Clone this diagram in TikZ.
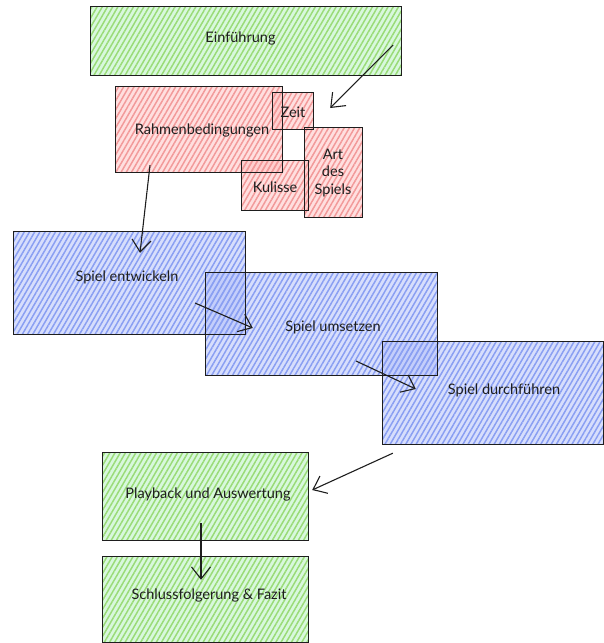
\documentclass[tikz,border=0pt]{standalone}
\usepackage{fontspec}
\setmainfont{Lato}
\usetikzlibrary{arrows.meta,patterns.meta}
\definecolor{ink}{HTML}{1E1E1E}
\definecolor{gfill}{HTML}{B2F2BB}
\definecolor{gline}{HTML}{9ADB78}
\definecolor{rfill}{HTML}{FFC0C0}
\definecolor{rline}{HTML}{F29A9A}
\definecolor{bfill}{HTML}{B0BEFA}
\definecolor{bline}{HTML}{8A9FF2}
\tikzset{
  box/.style={rectangle, inner sep=0pt},
  hatch/.style 2 args={box,
    preaction={fill=#1, fill opacity=0.5},
    preaction={pattern={Lines[angle=60,distance=4.5pt,line width=1.5pt]}, pattern color=#2, fill opacity=0.7}},
  gbox/.style={hatch={gfill}{gline}},
  rbox/.style={hatch={rfill}{rline}},
  bbox/.style={hatch={bfill}{bline}},
  border/.style={draw=ink, line width=1.1pt},
  lbl/.style={font=\fontsize{14.5}{17.5}\selectfont, text=ink, inner sep=0pt, align=center},
  conn/.style={draw=ink, line width=1.1pt, -{Straight Barb[length=12pt,width=19pt,line width=1.1pt]}},
}
\begin{document}
\begin{tikzpicture}[x=1pt,y=-1pt]
\useasboundingbox (0,0) rectangle (604,643);
\clip (0,0) rectangle (604,643);
% boxes (fills)
\node[gbox, minimum width=310pt, minimum height=68pt] (ein) at (246,41) {};
\node[rbox, minimum width=166pt, minimum height=85pt] (rah) at (199,129.5) {};
\node[rbox, minimum width=40pt, minimum height=36pt] (zeit) at (293,111) {};
\node[rbox, minimum width=66pt, minimum height=49pt] (kul) at (275,185.5) {};
\node[rbox, minimum width=57pt, minimum height=89pt] (art) at (333.5,172.5) {};
\node[bbox, minimum width=231pt, minimum height=102pt] (ent) at (129.5,283) {};
\node[bbox, minimum width=231pt, minimum height=102pt] (ums) at (321.5,324) {};
\node[bbox, minimum width=220pt, minimum height=102pt] (dur) at (493,393) {};
\node[gbox, minimum width=205pt, minimum height=87pt] (play) at (205.5,496.5) {};
\node[gbox, minimum width=205pt, minimum height=85pt] (sch) at (205.5,599.5) {};
% borders
\foreach \n in {ein,rah,zeit,kul,art,ent,ums,dur,play,sch}
  \draw[border] (\n.north west) rectangle (\n.south east);
% texts
\node[lbl] (einT) at (240.5,38) {Einführung};
\node[lbl] (rahT) at (202,130) {Rahmenbedingungen};
\node[lbl] (zeitT) at (293,112) {Zeit};
\node[lbl] (artT) at (333,173) {Art\\[0pt] des\\[0pt] Spiels};
\node[lbl] (kulT) at (275,187) {Kulisse};
\node[lbl] (entT) at (127,277) {Spiel entwickeln};
\node[lbl] (umsT) at (333,327) {Spiel umsetzen};
\node[lbl] (durT) at (504,390) {Spiel durchführen};
\node[lbl] (playT) at (208,494) {Playback und Auswertung};
\node[lbl] (schT) at (209,595) {Schlussfolgerung \& Fazit};
% connectors
\draw[conn] ([shift={(-8,4)}]ein.east) -- ([shift={(17,-3)}]zeit.east);
\draw[conn] ([shift={(-49,-7)}]rah.south) -- ([shift={(10.5,21)}]ent.north);
\draw[conn] ([shift={(65.5,20)}]ent.center) -- ([shift={(47,4)}]ums.west);
\draw[conn] ([shift={(34.5,37)}]ums.center) -- ([shift={(33,-4)}]dur.west);
\draw[conn] ([shift={(10,9)}]dur.south west) -- ([shift={(4,-6.5)}]play.east);
\draw[conn] ([shift={(-4.5,26.5)}]play.center) -- ([shift={(-4.5,23)}]sch.north);
\end{tikzpicture}
\end{document}
